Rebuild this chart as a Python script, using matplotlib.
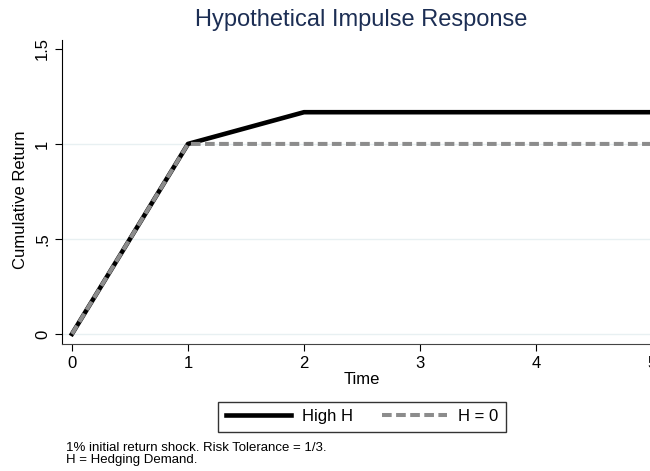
import matplotlib.pyplot as plt

# datos
tiempo = [0, 1, 2, 3, 4, 5]
high_h = [0, 1, 1.167, 1.167, 1.167, 1.167]
h_cero = [0, 1, 1, 1, 1, 1]
yticks = [0, 0.5, 1, 1.5]
yticklabels = ["0", ".5", "1", "1.5"]
grid_y = [0, 0.5, 1]

plt.rcParams['font.family'] = ['Liberation Sans', 'DejaVu Sans']

fig = plt.figure(figsize=(6.5, 4.71), dpi=100)
W, H = 650, 471
# ejes en pixeles: izq 62, der 670 (se corta en el borde), arriba 40, abajo 344
ax = fig.add_axes([62 / W, 1 - 344 / H, (670 - 62) / W, (344 - 40) / H])

for y in grid_y:
    ax.axhline(y, color="#e8f0f2", lw=1, zorder=0)

ax.plot(tiempo, high_h, color="black", lw=3.3, label="High H")
ax.plot(tiempo, h_cero, color="#8c8c8c", lw=2.9, ls=(0, (2.4, 1.1)), label="H = 0")

ax.set_xlim(-0.086, 5.155)
ax.set_ylim(-0.053, 1.547)
ax.set_xticks(tiempo)
ax.set_yticks(yticks)
ax.set_yticklabels(yticklabels, rotation=90, va="center")
ax.tick_params(direction="out", length=5, labelsize=12, width=0.8, pad=3.5)
ax.spines["top"].set_visible(False)
ax.spines["right"].set_visible(False)
ax.spines["bottom"].set_color("#444444")
ax.set_xlabel("Time", fontsize=12)
ax.set_ylabel("Cumulative Return", fontsize=12)
ax.xaxis.set_label_coords((361.5 - 62) / 608, (344 - 380) / 304)
ax.xaxis.label.set_va("center")
ax.yaxis.set_label_coords((20 - 62) / 608, (344 - 200) / 304)
ax.yaxis.label.set_va("center")

fig.text(361 / W, 1 - 20 / H, "Hypothetical Impulse Response", ha="center", va="center",
         fontsize=17, color="#1c2e54")

leg = fig.legend(loc="center", bbox_to_anchor=(362 / W, 1 - 416.5 / H), ncol=2,
                 fontsize=12, frameon=True, fancybox=False, edgecolor="black",
                 handlelength=3.9, handletextpad=0.66, columnspacing=1.75, borderpad=0.45)
leg.get_frame().set_linewidth(1)

fig.text(66 / W, 1 - 448 / H, "1% initial return shock. Risk Tolerance = 1/3.", fontsize=9.5, va="center")
fig.text(66 / W, 1 - 460 / H, "H = Hedging Demand.", fontsize=9.5, va="center")

fig.savefig("out.png", dpi=100)
